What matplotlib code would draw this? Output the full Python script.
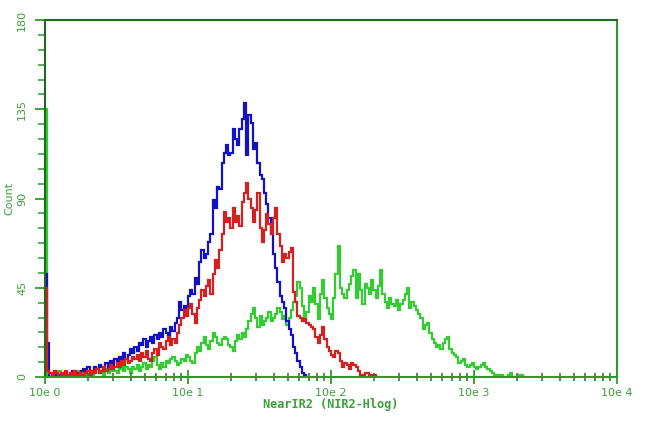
import numpy as np
import matplotlib
matplotlib.use("Agg")
import matplotlib.pyplot as plt
from matplotlib.ticker import FixedLocator, LogLocator, NullFormatter

# 256 log channels over 4 decades (64 per decade), counts
ch_per_decade = 64

blue = [52, 17, 0, 1, 0, 2, 1, 0, 1, 2,
        0, 1, 3, 1, 2, 0, 3, 4, 2, 5,
        3, 2, 5, 4, 6, 5, 3, 7, 5, 8,
        6, 9, 7, 10, 8, 12, 9, 11, 14, 12,
        15, 13, 17, 16, 19, 15, 18, 20, 17, 21,
        19, 22, 20, 24, 22, 21, 25, 23, 27, 30,
        38, 34, 36, 35, 41, 44, 42, 50, 47, 58,
        64, 60, 62, 68, 72, 89, 85, 96, 95, 108,
        113, 117, 112, 113, 125, 120, 117, 125, 130, 138,
        112, 132, 128, 115, 118, 108, 102, 100, 93, 87,
        80, 72, 62, 55, 48, 41, 38, 35, 28, 24,
        21, 15, 12, 8, 5, 2, 1, 0]

red = [45, 3, 2, 1, 3, 2, 0, 2, 1, 3,
       1, 2, 0, 3, 1, 2, 1, 0, 2, 3,
       1, 3, 2, 4, 2, 3, 5, 3, 4, 6,
       4, 5, 7, 5, 8, 6, 9, 7, 8, 10,
       9, 11, 8, 12, 10, 13, 9, 8, 12, 14,
       11, 17, 15, 14, 18, 20, 16, 19, 17, 22,
       26, 30, 34, 31, 35, 37, 32, 27, 35, 39,
       44, 41, 46, 49, 42, 52, 59, 55, 64, 72,
       83, 78, 80, 75, 85, 78, 81, 76, 88, 93,
       98, 90, 85, 78, 84, 93, 75, 68, 74, 82,
       77, 72, 80, 85, 72, 66, 58, 62, 60, 63,
       65, 43, 38, 31, 30, 28, 29, 27, 26, 25,
       24, 20, 17, 21, 25, 19, 15, 13, 11, 10,
       13, 12, 8, 5, 7, 6, 4, 7, 6, 5,
       3, 0, 1, 2, 2, 1, 0, 1, 0, 0]

green = [135, 1, 0, 2, 0, 1, 3, 0, 1, 2,
         0, 1, 2, 0, 3, 1, 2, 0, 2, 1,
         3, 1, 2, 4, 2, 3, 1, 4, 2, 3,
         5, 3, 2, 4, 6, 3, 5, 4, 2, 5,
         4, 6, 3, 5, 7, 4, 6, 5, 8, 10,
         6, 4, 7, 5, 8, 7, 9, 10, 8, 6,
         7, 9, 8, 11, 10, 8, 7, 12, 15, 13,
         17, 20, 16, 14, 18, 22, 20, 17, 16, 19,
         20, 19, 16, 15, 13, 18, 21, 19, 22, 20,
         24, 28, 32, 35, 30, 25, 31, 26, 28, 30,
         33, 28, 30, 32, 35, 33, 29, 31, 26, 30,
         34, 38, 41, 48, 45, 36, 30, 33, 41, 38,
         45, 37, 29, 42, 49, 40, 35, 32, 29, 40,
         52, 66, 45, 42, 40, 44, 47, 51, 54, 40,
         52, 44, 37, 47, 45, 42, 49, 44, 40, 46,
         54, 42, 38, 35, 40, 37, 36, 39, 34, 37,
         39, 42, 45, 35, 38, 36, 34, 32, 30, 24,
         26, 27, 22, 19, 17, 15, 16, 14, 17, 19,
         20, 14, 12, 11, 10, 7, 8, 9, 6, 5,
         6, 7, 5, 4, 5, 6, 7, 5, 4, 3,
         2, 0, 1, 0, 1, 0, 0, 1, 2, 0,
         0, 0, 1, 1, 0]

y_ticks = [0, 45, 90, 135, 180]
x_ticks = [1, 10, 100, 1000, 10000]
x_ticklabels = ["10e 0", "10e 1", "10e 2", "10e 3", "10e 4"]

axis_green = "#2e9a2e"
dark_green = "#1d6b1d"
label_green = "#3aa03a"

fig = plt.figure(figsize=(6.5, 4.21), dpi=100)
ax = fig.add_axes([45 / 650, 44 / 421, 572 / 650, 357 / 421])

def edges(n):
    return 10 ** (np.arange(n + 1) / ch_per_decade)

ax.stairs(green, edges(len(green)), baseline=0, color="#33cc33", lw=1.6)
ax.stairs(blue, edges(len(blue)), baseline=0, color="#1212c4", lw=1.6)
ax.stairs(red, edges(len(red)), baseline=0, color="#d42020", lw=1.6)

ax.set_xscale("log")
ax.set_xlim(1, 10000)
ax.set_ylim(0, 180)

ax.set_xticks(x_ticks)
ax.set_xticklabels(x_ticklabels)
ax.xaxis.set_minor_locator(LogLocator(base=10, subs=np.arange(2, 10)))
ax.xaxis.set_minor_formatter(NullFormatter())
ax.set_yticks(y_ticks)
ax.set_yticklabels([str(v) for v in y_ticks], rotation=90, va="center")
ax.yaxis.set_minor_locator(FixedLocator(np.arange(0, 181, 7.5)))

ax.tick_params(which="major", direction="out", length=6, width=1.3, color=axis_green,
               labelcolor=label_green, labelsize=8)
ax.tick_params(which="minor", direction="out", length=4, width=1.1, color=axis_green)
ax.tick_params(axis="y", which="major", length=7, pad=6)
ax.tick_params(axis="y", which="minor", length=5)
ax.tick_params(axis="x", which="major", direction="inout", length=10, pad=3)
ax.tick_params(axis="x", which="minor", direction="inout", length=6, color="#2a6a2a")

for side in ["left", "top"]:
    ax.spines[side].set_color(dark_green)
for side in ["bottom", "right"]:
    ax.spines[side].set_color(axis_green)
for s in ax.spines.values():
    s.set_linewidth(1.5)

ax.set_ylabel("Count", color=label_green, fontsize=8, labelpad=2)
ax.set_xlabel("NearIR2 (NIR2-Hlog)", color=label_green, fontsize=8.6, labelpad=0,
              fontweight="bold", family="DejaVu Sans Mono")

fig.savefig("out.png", dpi=100, facecolor="white")
